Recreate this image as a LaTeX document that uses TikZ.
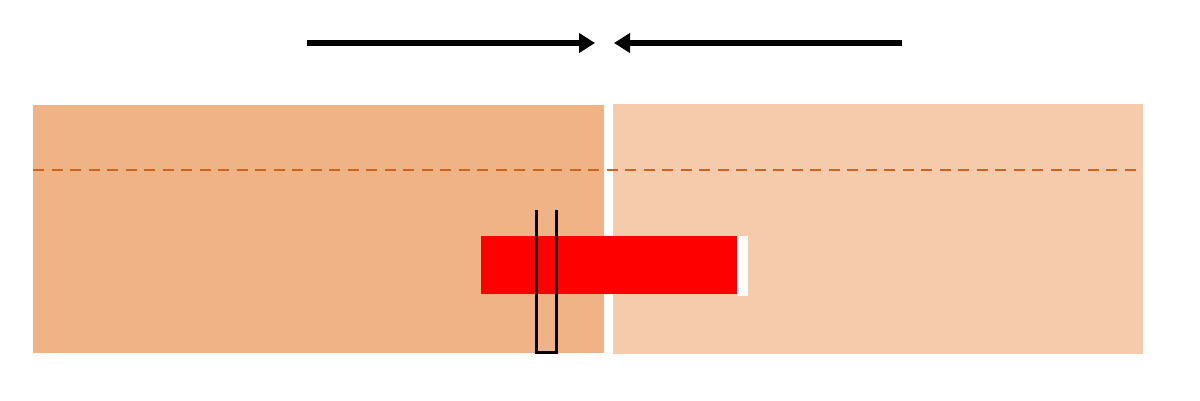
\documentclass[tikz,border=0pt]{standalone}
\usetikzlibrary{arrows.meta}
\definecolor{blockA}{HTML}{F0B385}
\definecolor{blockB}{HTML}{F5CBAC}
\definecolor{seam}{HTML}{CC6420}
\begin{document}
\begin{tikzpicture}[x=1pt,y=-1pt,
  push/.style={line width=5.5pt,-{Triangle[length=16pt,width=19pt]}}]
\useasboundingbox[fill=white] (0,0) rectangle (1200,400);
% blocks
\fill[blockA] (33,105) rectangle (604,353);
\fill[blockB] (613,104) rectangle (1143,354);
% dashed line
\draw[seam,line width=2.5pt,dash pattern=on 11pt off 7.5pt] (33,170) -- (1140,170);
% red bar and white strip
\fill[red] (481,236) rectangle (737,294);
\fill[white] (737,236) rectangle (748,296);
% U-shaped outline
\draw[line width=3pt,line join=miter] (536,210) -- (536,352) -- (556,352) -- (556,210);
% arrows
\coordinate (l0) at (307,43);
\coordinate (l1) at (595,43);
\coordinate (r0) at (902,43);
\coordinate (r1) at (614,43);
\draw[push] (l0) -- (l1);
\draw[push] (r0) -- (r1);
\end{tikzpicture}
\end{document}
